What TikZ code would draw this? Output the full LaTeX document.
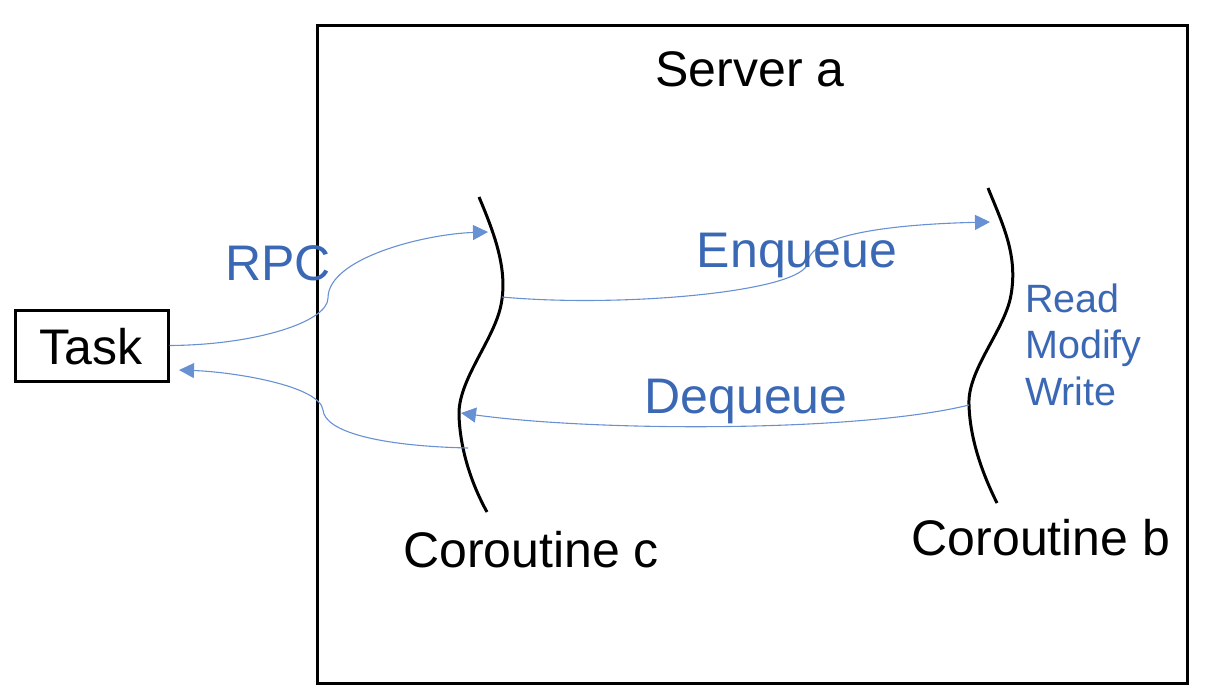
\documentclass[tikz,border=0pt]{standalone}
\usepackage{fontspec}
\setmainfont{Liberation Sans}
\usepackage{xcolor}
\usepackage{tikz}
\usetikzlibrary{positioning,arrows.meta,calc}

\definecolor{labelblue}{RGB}{59,104,181}
\definecolor{linkblue}{RGB}{104,145,212}

\begin{document}
\begin{tikzpicture}[
  x=1pt, y=-1pt,
  big/.style={font=\fontsize{50}{60}\selectfont, inner sep=0pt, anchor=base},
  note/.style={big, text=labelblue},
  small/.style={font=\fontsize{39.5}{46.5}\selectfont, inner sep=0pt, text=labelblue, align=left},
  frame/.style={draw, line width=3pt},
  thread/.style={line width=3pt},
  arr/.style={-{Triangle[length=15pt, width=15pt]}, draw=linkblue, line width=1.1pt},
]
\useasboundingbox (0,0) rectangle (1222,699);

% boxes
\node[frame, minimum width=870pt, minimum height=658pt] (server) at (752,354) {};
\node[frame, minimum width=153pt, minimum height=71pt] (task) at (91.5,345.5) {};
\node[big] (tasklabel) at (91,364) {Task};
\node[big] (srvlabel) at (750,86) {Server a};

% coroutine c
\coordinate (c-top) at (479,197);
\coordinate (c-bot) at (487,512);
\draw[thread] (c-top) .. controls (495,235) and (508,270) .. (501,305)
  .. controls (494,340) and (458,380) .. (459,415)
  .. controls (460,450) and (472,485) .. (c-bot);
\node[big] (corc) at (531,567) {Coroutine c};

% coroutine b
\coordinate (b-top) at (988,188);
\coordinate (b-bot) at (997,503);
\draw[thread] (b-top) .. controls (1003,225) and (1018,255) .. (1011,295)
  .. controls (1005,330) and (967,370) .. (969,405)
  .. controls (970,440) and (983,475) .. (b-bot);
\node[big] (corb) at (1041,555) {Coroutine b};
\node[small, anchor=base west] (rmw) at (1025,405) {Read\\Modify\\Write};

% link points
\coordinate (c-in) at (488,232);
\coordinate (c-out) at (502,297);
\coordinate (c-deq) at (461,413);
\coordinate (c-ret) at (468,448);
\coordinate (b-in) at (990,222);
\coordinate (b-out) at (969,405);
\coordinate (task-in) at (179,370);

% connectors
\draw[arr] (task.east) .. controls (255,345) and (328,322) .. (328,298)
  .. controls (328,258) and (425,234) .. (c-in);
\node[note] (rpc) at (278,280) {RPC};
\draw[arr] (c-out) .. controls (620,308) and (806,292) .. (808,262)
  .. controls (811,232) and (905,224) .. (b-in);
\node[note] (enq) at (797,267) {Enqueue};
\draw[arr] (b-out) .. controls (860,432) and (600,432) .. (c-deq);
\node[note] (deq) at (746,413) {Dequeue};
\draw[arr] (c-ret) .. controls (380,446) and (325,432) .. (323,410)
  .. controls (320,386) and (235,372) .. (task-in);
\end{tikzpicture}
\end{document}
